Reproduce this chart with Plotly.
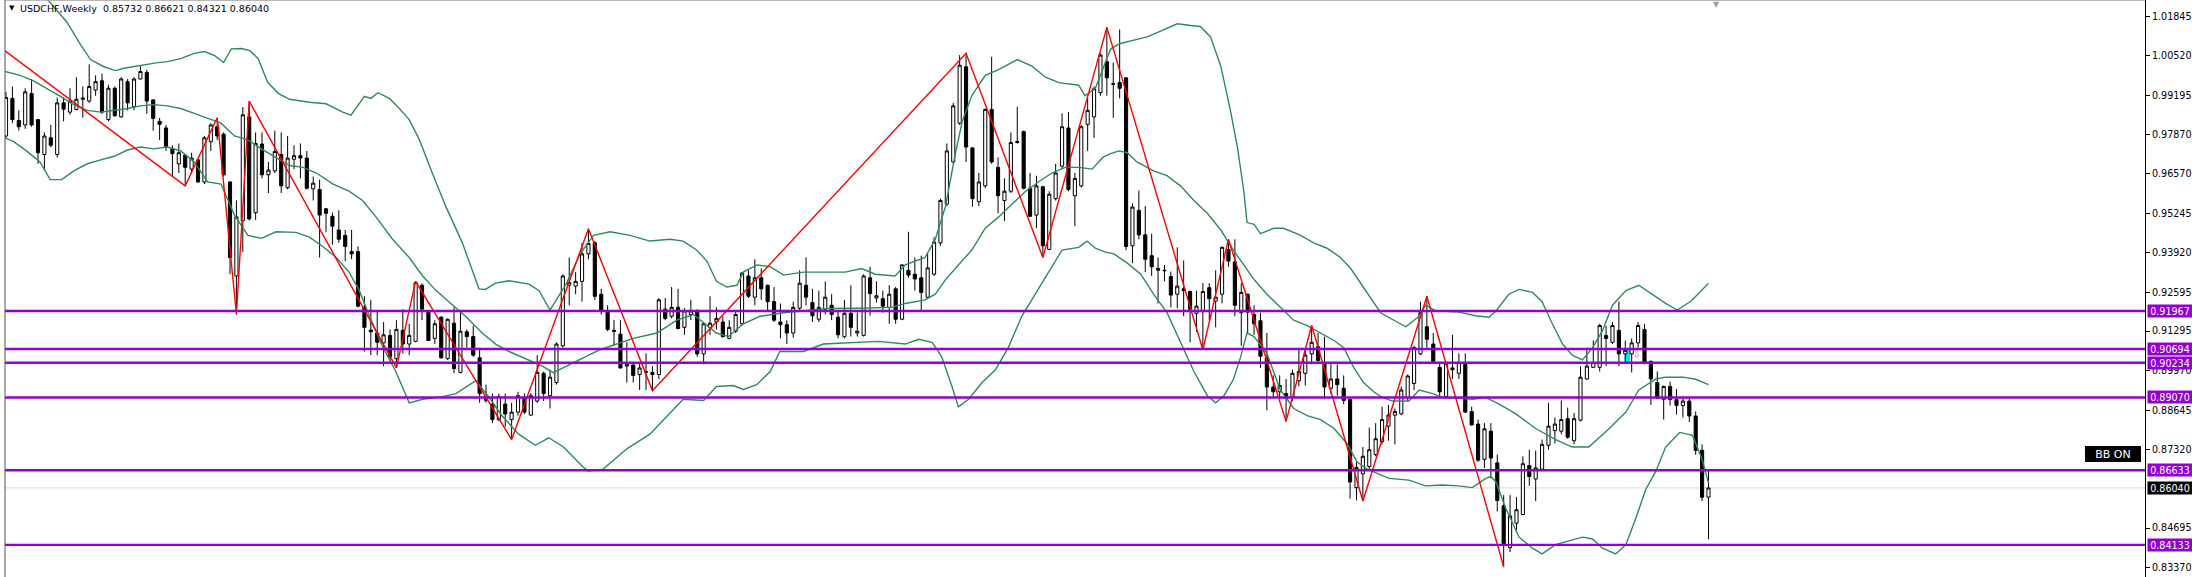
import plotly.graph_objects as go

# ---------------- data (USDCHF weekly) ----------------
opens = [
0.9783,0.9909,0.9835,0.9820,0.9925,0.9838,0.9721,0.9777,0.9721,0.9894,
0.9863,0.9872,0.9906,0.9900,0.9937,0.9968,0.9838,0.9943,0.9847,0.9965,
0.9881,0.9974,0.9996,0.9904,0.9832,0.9810,0.9740,0.9690,0.9719,0.9672,
0.9703,0.9629,0.9764,0.9814,0.9789,0.9629,0.9314,0.9499,0.9847,0.9526,
0.9756,0.9653,0.9666,0.9721,0.9610,0.9705,0.9717,0.9709,0.9606,0.9604,
0.9539,0.9514,0.9468,0.9450,0.9396,0.9396,0.9209,0.9133,0.9123,0.9090,
0.9115,0.9037,0.9132,0.9086,0.9095,0.9283,0.9197,0.9105,0.9176,0.9037,
0.9156,0.8991,0.9127,0.9111,0.9040,0.8910,0.8885,0.8833,0.8885,0.8833,
0.8858,0.8905,0.8848,0.8895,0.8988,0.8913,0.8957,0.9080,0.9283,0.9280,
0.9296,0.9388,0.9425,0.9253,0.9193,0.9132,0.9119,0.9012,0.9016,0.8984,
0.8994,0.8991,0.8984,0.9203,0.9179,0.9209,0.9142,0.9185,0.9197,0.9053,
0.9142,0.9160,0.9160,0.9105,0.9129,0.9154,0.9314,0.9243,0.9308,0.9283,
0.9228,0.9160,0.9151,0.9123,0.9206,0.9283,0.9225,0.9169,0.9203,0.9216,
0.9176,0.9111,0.9189,0.9123,0.9115,0.9308,0.9240,0.9238,0.9209,0.9271,
0.9169,0.9333,0.9320,0.9308,0.9243,0.9320,0.9425,0.9555,0.9696,0.9826,
1.0015,0.9743,0.9563,0.9616,0.9872,0.9678,0.9567,0.9598,0.9761,0.9798,
0.9608,0.9518,0.9613,0.9403,0.9573,0.9682,0.9810,0.9583,0.9616,0.9822,
0.9847,0.9928,1.0032,0.9958,0.9962,0.9978,0.9415,0.9534,0.9452,0.9382,
0.9333,0.9333,0.9312,0.9253,0.9271,0.9262,0.9189,0.9197,0.9275,0.9230,
0.9253,0.9403,0.9361,0.9191,0.9253,0.9185,0.9164,0.9040,0.8942,0.8926,
0.8920,0.8907,0.8963,0.8988,0.9053,0.9077,0.9021,0.8938,0.8969,0.8938,
0.8901,0.8605,0.8651,0.8676,0.8716,0.8759,0.8811,0.8848,0.8852,0.8907,
0.8954,0.9053,0.9144,0.9086,0.9008,0.8910,0.9006,0.8988,0.9018,0.8860,
0.8818,0.8700,0.8794,0.8688,0.8544,0.8404,0.8486,0.8515,0.8679,0.8634,
0.8667,0.8747,0.8796,0.8794,0.8836,0.8762,0.8831,0.8969,0.9008,0.9008,
0.9115,0.9092,0.9132,0.9053,0.9053,0.9090,0.9135,0.9028,0.8957,0.8901,
0.8944,0.8900,0.8880,0.8895,0.8845,0.8730,0.85732]

highs = [
0.9931,0.9949,0.9869,0.9943,0.9974,0.9840,0.9795,0.9820,0.9912,0.9912,
0.9943,0.9980,0.9949,1.0023,0.9986,0.9992,0.9955,0.9949,0.9980,0.9974,
0.9980,1.0017,1.0005,0.9906,0.9844,0.9820,0.9752,0.9758,0.9721,0.9727,
0.9705,0.9783,0.9826,0.9844,0.9795,0.9631,0.9567,0.9880,0.9900,0.9795,
0.9795,0.9696,0.9801,0.9795,0.9783,0.9752,0.9758,0.9733,0.9647,0.9637,
0.9542,0.9526,0.9534,0.9468,0.9468,0.9413,0.9246,0.9234,0.9197,0.9160,
0.9135,0.9166,0.9203,0.9154,0.9296,0.9290,0.9199,0.9166,0.9179,0.9172,
0.9209,0.9193,0.9135,0.9148,0.9074,0.8950,0.8920,0.8920,0.8920,0.8889,
0.8926,0.8920,0.8922,0.9049,0.8994,0.9000,0.9092,0.9320,0.9376,0.9327,
0.9425,0.9472,0.9431,0.9271,0.9216,0.9166,0.9166,0.9092,0.9018,0.9024,
0.9055,0.9012,0.9240,0.9240,0.9277,0.9271,0.9206,0.9234,0.9203,0.9156,
0.9246,0.9209,0.9179,0.9166,0.9197,0.9327,0.9333,0.9370,0.9339,0.9285,
0.9277,0.9222,0.9166,0.9228,0.9333,0.9376,0.9271,0.9265,0.9296,0.9253,
0.9197,0.9234,0.9283,0.9191,0.9320,0.9345,0.9296,0.9265,0.9283,0.9277,
0.9354,0.9462,0.9376,0.9382,0.9388,0.9444,0.9573,0.9758,0.9894,1.0054,
1.0060,0.9746,0.9659,0.9875,1.0048,0.9711,0.9641,0.9795,0.9881,0.9801,
0.9659,0.9650,0.9616,0.9598,0.9690,0.9859,0.9863,0.9659,0.9820,0.9912,
0.9949,1.0060,1.0147,1.0029,1.0140,0.9980,0.9557,0.9600,0.9548,0.9456,
0.9376,0.9351,0.9329,0.9410,0.9366,0.9265,0.9265,0.9290,0.9290,0.9333,
0.9413,0.9437,0.9437,0.9290,0.9255,0.9216,0.9191,0.9123,0.8981,0.8981,
0.8969,0.9000,0.9074,0.9074,0.9148,0.9123,0.9111,0.9024,0.9018,0.8981,
0.8905,0.8691,0.8741,0.8806,0.8821,0.8876,0.8882,0.8870,0.8944,0.8984,
0.9080,0.9228,0.9246,0.9123,0.9024,0.9024,0.9117,0.9055,0.9055,0.8876,
0.8833,0.8821,0.8821,0.8716,0.8580,0.8580,0.8574,0.8710,0.8732,0.8729,
0.8766,0.8889,0.8840,0.8897,0.8873,0.8855,0.9012,0.9074,0.9098,0.9154,
0.9148,0.9160,0.9228,0.9098,0.9105,0.9160,0.9154,0.9031,0.8994,0.8947,
0.8960,0.8935,0.8910,0.8905,0.8860,0.8750,0.86621]

lows = [
0.9777,0.9826,0.9801,0.9807,0.9814,0.9690,0.9666,0.9746,0.9711,0.9832,
0.9854,0.9869,0.9844,0.9894,0.9918,0.9857,0.9832,0.9847,0.9844,0.9869,
0.9869,0.9972,0.9857,0.9801,0.9770,0.9733,0.9647,0.9659,0.9616,0.9659,
0.9627,0.9622,0.9733,0.9770,0.9647,0.9320,0.9185,0.9394,0.9500,0.9502,
0.9641,0.9592,0.9659,0.9592,0.9604,0.9672,0.9641,0.9604,0.9567,0.9376,
0.9462,0.9419,0.9425,0.9364,0.9370,0.9209,0.9061,0.9049,0.9049,0.9012,
0.9024,0.9006,0.9055,0.9049,0.9092,0.9166,0.9096,0.9086,0.9037,0.9033,
0.8988,0.8988,0.9074,0.9043,0.8889,0.8889,0.8821,0.8827,0.8809,0.8766,
0.8846,0.8852,0.8846,0.8889,0.8895,0.8870,0.8950,0.9074,0.9216,0.9253,
0.9228,0.9370,0.9234,0.9185,0.9129,0.9080,0.9004,0.8957,0.8957,0.8932,
0.8932,0.8930,0.8969,0.9166,0.9172,0.9135,0.9117,0.9166,0.9043,0.9018,
0.9117,0.9135,0.9107,0.9102,0.9123,0.9148,0.9240,0.9216,0.9234,0.9197,
0.9160,0.9105,0.9086,0.9107,0.9197,0.9216,0.9160,0.9160,0.9185,0.9166,
0.9105,0.9105,0.9111,0.9111,0.9111,0.9181,0.9225,0.9191,0.9154,0.9154,
0.9166,0.9308,0.9265,0.9197,0.9240,0.9314,0.9415,0.9548,0.9690,0.9820,
0.9696,0.9546,0.9548,0.9608,0.9690,0.9524,0.9499,0.9592,0.9758,0.9604,
0.9512,0.9474,0.9376,0.9400,0.9567,0.9672,0.9598,0.9481,0.9610,0.9733,
0.9777,0.9918,0.9918,0.9844,0.9909,0.9400,0.9357,0.9437,0.9327,0.9314,
0.9222,0.9296,0.9209,0.9206,0.9179,0.9092,0.9127,0.9067,0.9166,0.9142,
0.9222,0.9345,0.9179,0.9080,0.9123,0.9117,0.9006,0.8864,0.8907,0.8901,
0.8827,0.8895,0.8944,0.8947,0.9018,0.9024,0.8901,0.8920,0.8913,0.8885,
0.8568,0.8562,0.8560,0.8667,0.8710,0.8750,0.8762,0.8750,0.8848,0.8895,
0.8932,0.9049,0.9074,0.9024,0.8907,0.8901,0.8969,0.8969,0.8855,0.8813,
0.8691,0.8671,0.8636,0.8525,0.8340,0.8389,0.8463,0.8512,0.8611,0.8560,
0.8661,0.8732,0.8753,0.8784,0.8769,0.8750,0.8827,0.8966,0.9006,0.8994,
0.9012,0.9086,0.9012,0.9024,0.8991,0.9074,0.9018,0.8882,0.8901,0.8833,
0.8880,0.8850,0.8840,0.8825,0.8715,0.8560,0.84321]

closes = [
0.9912,0.9838,0.9814,0.9931,0.9820,0.9727,0.9783,0.9752,0.9894,0.9873,
0.9900,0.9906,0.9910,0.9949,0.9965,0.9863,0.9943,0.9851,0.9974,0.9894,
0.9974,0.9999,0.9900,0.9842,0.9822,0.9748,0.9724,0.9727,0.9678,0.9709,
0.9629,0.9777,0.9820,0.9783,0.9653,0.9376,0.9512,0.9854,0.9505,0.9758,
0.9653,0.9669,0.9731,0.9616,0.9709,0.9717,0.9709,0.9608,0.9625,0.9518,
0.9524,0.9481,0.9437,0.9413,0.9388,0.9213,0.9142,0.9127,0.9092,0.9117,
0.9043,0.9135,0.9086,0.9115,0.9292,0.9203,0.9098,0.9154,0.9040,0.9169,
0.9004,0.9129,0.9111,0.9049,0.8920,0.8897,0.8833,0.8910,0.8852,0.8858,
0.8913,0.8858,0.8913,0.8991,0.8920,0.8975,0.9086,0.9314,0.9292,0.9296,
0.9388,0.9423,0.9246,0.9197,0.9135,0.9129,0.9006,0.9018,0.8981,0.9006,
0.8992,0.8984,0.9234,0.9172,0.9209,0.9138,0.9197,0.9197,0.9053,0.9154,
0.9156,0.9172,0.9111,0.9142,0.9185,0.9324,0.9246,0.9308,0.9271,0.9228,
0.9166,0.9151,0.9123,0.9209,0.9290,0.9243,0.9181,0.9209,0.9243,0.9185,
0.9117,0.9189,0.9142,0.9129,0.9314,0.9255,0.9248,0.9213,0.9253,0.9169,
0.9351,0.9317,0.9304,0.9259,0.9341,0.9428,0.9567,0.9733,0.9884,1.0020,
0.9746,0.9573,0.9629,0.9872,0.9696,0.9583,0.9598,0.9761,0.9764,0.9608,
0.9514,0.9616,0.9415,0.9588,0.9659,0.9814,0.9604,0.9641,0.9814,0.9869,
0.9941,1.0054,0.9978,0.9957,0.9943,0.9413,0.9545,0.9452,0.9370,0.9345,
0.9339,0.9332,0.9250,0.9280,0.9265,0.9203,0.9213,0.9262,0.9238,0.9243,
0.9410,0.9364,0.9216,0.9259,0.9193,0.9154,0.9045,0.8942,0.8926,0.8947,
0.8905,0.8988,0.8994,0.9049,0.9092,0.9031,0.8942,0.8969,0.8950,0.8897,
0.8624,0.8673,0.8710,0.8732,0.8769,0.8833,0.8848,0.8860,0.8932,0.8979,
0.9074,0.9191,0.9102,0.9028,0.8926,0.9021,0.9000,0.9024,0.8858,0.8815,
0.8697,0.8802,0.8704,0.8562,0.8417,0.8510,0.8531,0.8685,0.8642,0.8671,
0.8750,0.8811,0.8818,0.8833,0.8774,0.8836,0.8975,0.9012,0.9024,0.9148,
0.9105,0.9148,0.9053,0.9065,0.9090,0.9148,0.9024,0.8969,0.8905,0.8944,
0.8900,0.8880,0.8895,0.8845,0.8730,0.8573,0.86040]

assert len(opens) == len(highs) == len(lows) == len(closes), (len(opens), len(highs), len(lows), len(closes))
week = list(range(1, len(closes) + 1))

# Bollinger bands (x = week index)
bb_upper_x = [7.5,10.5,12.6,14.2,16.3,18.1,19.4,22.0,24.7,26.2,28.3,30.4,32.0,33.6,35.0,36.2,37.8,39.1,40.4,41.9,
              43.6,45.3,48.4,51.0,53.6,54.9,57.0,58.0,59.1,60.9,62.2,64.0,65.6,67.6,69.7,72.3,74.9,75.9,77.5,79.6,
              82.7,84.3,86.0,88.6,90.7,92.8,95.4,98.5,101.6,104.8,106.8,108.9,110.5,112.0,113.6,115.2,116.2,118.3,120.4,122.5,
              125.6,129.0,132.1,134.7,136.8,139.9,141.5,144.6,146.2,147.8,149.3,150.4,151.9,154.0,156.1,159.0,161.3,163.4,165.5,168.6,
              169.6,171.2,172.4,173.6,175.1,177.2,179.3,181.4,184.0,186.1,187.6,189.2,190.8,192.3,193.4,194.4,194.9,196.0,197.0,199.1,
              200.6,203.3,205.3,207.4,209.5,211.1,212.6,214.2,215.8,219.7,221.8,222.8,224.4,228.0,230.6,232.7,233.8,235.8,237.4,239.5,
              241.0,242.6,244.2,245.7,247.3,248.9,250.4,252.0,254.1,256.1,258.2,260.3,262.1,264.3,267.0]
bb_upper = [1.0240,1.0165,1.0091,1.0039,1.0015,1.0002,1.0010,1.0020,1.0029,1.0032,1.0042,1.0060,1.0066,1.0052,1.0029,1.0075,1.0076,1.0069,1.0042,0.9962,
            0.9925,0.9906,0.9896,0.9891,0.9863,0.9853,0.9916,0.9909,0.9928,0.9909,0.9881,0.9838,0.9770,0.9659,0.9548,0.9425,0.9271,0.9269,0.9290,0.9298,
            0.9287,0.9265,0.9200,0.9290,0.9388,0.9450,0.9462,0.9450,0.9431,0.9437,0.9431,0.9401,0.9364,0.9296,0.9277,0.9283,0.9327,0.9351,0.9345,0.9317,
            0.9327,0.9327,0.9327,0.9339,0.9320,0.9314,0.9351,0.9376,0.9437,0.9548,0.9721,0.9832,0.9918,0.9986,1.0005,1.0039,1.0017,0.9980,0.9962,0.9953,
            0.9918,0.9943,1.0010,1.0075,1.0093,1.0103,1.0115,1.0134,1.0159,1.0153,1.0150,1.0115,1.0017,0.9869,0.9746,0.9598,0.9493,0.9487,0.9456,0.9474,
            0.9474,0.9450,0.9425,0.9407,0.9376,0.9339,0.9290,0.9240,0.9190,0.9144,0.9179,0.9216,0.9197,0.9193,0.9181,0.9176,0.9197,0.9253,0.9269,0.9259,
            0.9228,0.9154,0.9086,0.9049,0.9033,0.9074,0.9129,0.9216,0.9265,0.9283,0.9253,0.9222,0.9200,0.9230,0.9290]

bb_middle_x = [0.84,3.2,5.3,7.4,9.5,11.6,13.7,15.8,17.9,20.0,22.0,24.1,26.2,28.3,30.4,32.5,34.6,36.7,38.8,40.9,
               43.0,45.3,47.4,49.5,52.1,54.6,56.7,58.8,61.4,64.0,66.1,68.2,70.8,72.8,75.4,77.5,79.6,82.2,84.8,86.5,
               89.1,93.8,99.0,102.7,105.8,108.4,112.0,113.9,116.2,118.8,122.5,125.6,129.4,134.2,139.4,141.5,144.6,146.2,147.8,149.8,
               151.9,154.0,156.1,158.2,160.3,162.3,164.4,166.5,168.6,170.7,172.4,173.6,174.9,176.2,177.7,180.3,182.4,184.5,186.6,188.7,
               190.8,192.8,194.4,196.0,198.0,200.1,202.2,204.3,206.4,208.5,210.0,211.6,213.1,214.7,215.8,217.6,220.2,221.8,223.9,225.4,
               228.0,230.1,232.2,234.3,236.9,240.0,243.1,245.7,248.3,251.5,254.1,256.1,258.8,260.3,263.0,265.0,267.0]
bb_middle = [0.9999,0.9986,0.9968,0.9943,0.9916,0.9888,0.9869,0.9863,0.9869,0.9875,0.9884,0.9888,0.9884,0.9875,0.9859,0.9842,0.9826,0.9783,0.9770,0.9740,
             0.9712,0.9684,0.9678,0.9659,0.9622,0.9598,0.9567,0.9512,0.9437,0.9376,0.9314,0.9265,0.9216,0.9179,0.9123,0.9086,0.9061,0.9037,0.9012,0.8990,
             0.9018,0.9067,0.9105,0.9123,0.9166,0.9185,0.9123,0.9111,0.9154,0.9179,0.9191,0.9197,0.9205,0.9206,0.9209,0.9222,0.9234,0.9253,0.9302,0.9351,
             0.9401,0.9474,0.9512,0.9555,0.9598,0.9629,0.9659,0.9678,0.9678,0.9672,0.9712,0.9724,0.9733,0.9727,0.9696,0.9666,0.9650,0.9616,0.9567,0.9524,
             0.9468,0.9400,0.9351,0.9302,0.9253,0.9209,0.9166,0.9148,0.9123,0.9098,0.9074,0.9006,0.8957,0.8926,0.8910,0.8895,0.8895,0.8932,0.8920,0.8907,
             0.8905,0.8901,0.8907,0.8885,0.8852,0.8803,0.8766,0.8741,0.8741,0.8803,0.8858,0.8932,0.8969,0.8975,0.8975,0.8968,0.8950]

bb_lower_x = [0.84,2.2,4.2,6.3,7.9,9.7,11.6,13.7,15.8,17.9,20.0,22.0,24.1,26.2,28.3,30.4,32.5,34.6,36.7,38.8,
              40.9,43.2,46.3,48.4,50.5,52.6,54.6,56.2,57.8,59.8,61.9,64.0,66.1,69.2,71.3,73.4,74.4,76.5,78.5,81.1,
              83.7,85.8,88.1,91.2,92.0,94.3,98.0,101.6,104.8,106.8,110.0,112.0,114.6,116.2,118.3,120.4,121.9,125.6,128.7,133.2,
              137.3,141.5,143.6,145.7,147.2,148.8,149.8,151.4,153.5,155.6,157.6,159.7,161.8,163.9,166.0,168.6,169.9,171.2,172.8,174.1,
              176.2,178.3,180.3,182.4,184.5,186.6,188.7,190.0,191.3,192.8,193.9,194.9,196.0,198.0,200.1,202.2,204.3,206.4,208.5,210.5,
              212.1,213.7,215.5,217.1,220.2,222.8,225.4,228.0,230.1,232.2,233.0,233.8,235.3,237.4,239.5,241.0,243.1,245.2,247.3,248.9,
              250.4,252.5,254.1,255.6,257.2,258.8,260.3,262.5,264.5,266.0,267.0]
bb_lower = [0.9777,0.9764,0.9733,0.9696,0.9637,0.9637,0.9666,0.9690,0.9703,0.9715,0.9736,0.9746,0.9740,0.9746,0.9733,0.9696,0.9629,0.9622,0.9518,0.9450,
            0.9440,0.9462,0.9460,0.9444,0.9413,0.9376,0.9327,0.9265,0.9179,0.9080,0.8994,0.8889,0.8901,0.8910,0.8920,0.8950,0.8963,0.8907,0.8846,0.8784,
            0.8747,0.8772,0.8741,0.8673,0.8661,0.8667,0.8735,0.8784,0.8858,0.8901,0.8897,0.8944,0.8947,0.8934,0.8950,0.8994,0.9061,0.9061,0.9086,0.9090,
            0.9095,0.9086,0.9102,0.9092,0.9043,0.8944,0.8876,0.8901,0.8957,0.9000,0.9074,0.9179,0.9253,0.9327,0.9401,0.9410,0.9431,0.9407,0.9394,0.9388,
            0.9357,0.9320,0.9253,0.9191,0.9092,0.8994,0.8913,0.8889,0.8913,0.8969,0.9043,0.9123,0.9111,0.9055,0.8932,0.8870,0.8846,0.8833,0.8803,0.8753,
            0.8691,0.8667,0.8650,0.8636,0.8630,0.8611,0.8614,0.8611,0.8605,0.8636,0.8642,0.8624,0.8537,0.8439,0.8402,0.8383,0.8414,0.8426,0.8439,0.8433,
            0.8402,0.8383,0.8414,0.8500,0.8599,0.8661,0.8741,0.8790,0.8780,0.8700,0.8620]

# ZigZag swing points (x = week index)
zz_x = [0.85, 29, 34, 37, 39, 62, 65, 80, 92, 102, 151, 163, 173, 188, 192, 201, 205, 213, 223, 235]
zz_y = [1.0068, 0.9616, 0.9844, 0.9185, 0.9900, 0.9006, 0.9296, 0.8766, 0.9472, 0.8930,
        1.0060, 0.9376, 1.0147, 0.9067, 0.9437, 0.8827, 0.9148, 0.8560, 0.9246, 0.8340]

# Horizontal levels
levels = [0.91967, 0.90694, 0.90234, 0.89070, 0.86633, 0.84133]

# Axis ticks
tick_vals = [1.01845, 1.00520, 0.99195, 0.97870, 0.96570, 0.95245, 0.93920, 0.92595,
             0.91295, 0.89970, 0.88645, 0.87320, 0.84695, 0.83370]
tick_text = ["%.5f" % v for v in tick_vals]

# signal marks
signal_x = [254.3]
signal_low = [0.9026]
signal_high = [0.9066]
arrow_x = [255.8]
arrow_y = [0.9047]

y_range = [0.83056, 1.02386]
x_range = [0.844, 335.2]
FONT = "DejaVu Sans"

fig = go.Figure()

fig.add_trace(go.Candlestick(
    x=week, open=opens, high=highs, low=lows, close=closes,
    increasing=dict(line=dict(color="#000000", width=1), fillcolor="#FFFFFF"),
    decreasing=dict(line=dict(color="#000000", width=1), fillcolor="#000000"),
    whiskerwidth=0, showlegend=False, hoverinfo="skip"))

band_style = dict(color="#2E8B57", width=1.4)
for bx, by in ((bb_upper_x, bb_upper), (bb_middle_x, bb_middle), (bb_lower_x, bb_lower)):
    fig.add_trace(go.Scatter(x=bx, y=by, mode="lines", line=band_style,
                             showlegend=False, hoverinfo="skip"))

fig.add_trace(go.Scatter(x=zz_x, y=zz_y, mode="lines",
                         line=dict(color="#FF0000", width=1.4),
                         showlegend=False, hoverinfo="skip"))

fig.add_trace(go.Bar(x=signal_x, y=[h - l for h, l in zip(signal_high, signal_low)],
                     base=signal_low, width=0.9, marker=dict(color="#00E5FF", line=dict(width=0)),
                     showlegend=False, hoverinfo="skip"))
fig.add_trace(go.Scatter(x=arrow_x, y=arrow_y, mode="text", text=["⇩"],
                         textfont=dict(color="#FF7070", size=11, family=FONT),
                         showlegend=False, hoverinfo="skip"))

shapes = []
annotations = []
last_price = closes[-1]
shapes.append(dict(type="line", xref="paper", x0=0, x1=1, yref="y", y0=last_price, y1=last_price,
                   line=dict(color="#D8D8D8", width=1), layer="below"))
for lv in levels:
    shapes.append(dict(type="line", xref="paper", x0=0, x1=1, yref="y", y0=lv, y1=lv,
                       line=dict(color="#9400D3", width=2.4)))
    annotations.append(dict(xref="paper", x=1, xanchor="left", xshift=2, yref="y", y=lv,
                            yanchor="middle", text="%.5f" % lv, showarrow=False,
                            font=dict(family=FONT, size=9.6, color="#FFFFFF"),
                            bgcolor="#9400D3", width=42, height=10, borderpad=1))
annotations.append(dict(xref="paper", x=1, xanchor="left", xshift=2, yref="y", y=last_price,
                        yanchor="middle", text="%.5f" % last_price, showarrow=False,
                        font=dict(family=FONT, size=9.6, color="#FFFFFF"),
                        bgcolor="#000000", width=42, height=10, borderpad=1))

# frame lines
shapes.append(dict(type="line", xref="paper", x0=0, x1=0, yref="paper", y0=0, y1=1,
                   line=dict(color="#505050", width=1)))
shapes.append(dict(type="line", xref="paper", x0=0, x1=1, yref="paper", y0=1, y1=1,
                   line=dict(color="#A0A0A0", width=1.5)))

# title
annotations.append(dict(xref="paper", x=0, xanchor="left", xshift=2, yref="paper", y=1,
                        yanchor="top", yshift=-2, text="▼", showarrow=False,
                        font=dict(family=FONT, size=7, color="#000000")))
annotations.append(dict(xref="paper", x=0, xanchor="left", xshift=13, yref="paper", y=1,
                        yanchor="top", yshift=-1,
                        text="USDCHF,Weekly  0.85732 0.86621 0.84321 0.86040", showarrow=False,
                        font=dict(family=FONT, size=9.5, color="#000000")))
# BB ON label
annotations.append(dict(xref="paper", x=0.9981, xanchor="right", yref="paper", y=0.2132,
                        yanchor="middle", text="BB ON", showarrow=False,
                        font=dict(family=FONT, size=11, color="#FFFFFF"),
                        bgcolor="#000000", bordercolor="#000000", width=52, height=12, borderpad=1))
# chart shift marker
annotations.append(dict(xref="x", x=268.2, yref="paper", y=1, yanchor="top", yshift=2,
                        text="▼", showarrow=False, font=dict(family=FONT, size=8, color="#A0A0A0")))

fig.update_layout(
    width=2192, height=577,
    margin=dict(l=5, r=47, t=0, b=0, pad=0),
    paper_bgcolor="#FFFFFF", plot_bgcolor="#FFFFFF",
    showlegend=False, barmode="overlay",
    shapes=shapes, annotations=annotations,
    xaxis=dict(range=x_range, visible=False, showgrid=False, zeroline=False,
               rangeslider=dict(visible=False), fixedrange=True),
    yaxis=dict(range=y_range, side="right", showgrid=False, zeroline=False,
               showline=True, linecolor="#000000", linewidth=1,
               ticks="outside", ticklen=4, tickcolor="#000000", tickwidth=1,
               tickvals=tick_vals, ticktext=tick_text,
               tickfont=dict(family=FONT, size=9.6, color="#000000"),
               automargin=False, fixedrange=True),
)

fig.write_html("out.html", config={"displayModeBar": False},
               post_script="document.body.style.margin='0';document.body.style.overflow='hidden';")
